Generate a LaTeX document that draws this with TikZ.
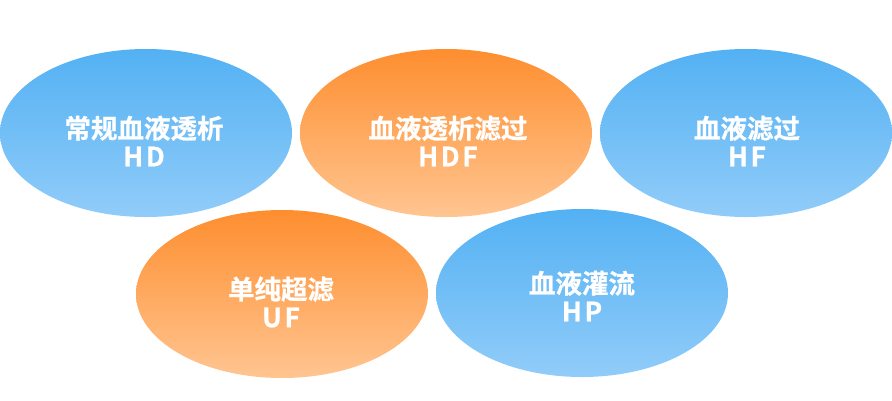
\documentclass[tikz,border=0pt]{standalone}
\usepackage{fontspec}
\setmainfont{Noto Sans CJK SC}[BoldFont={Noto Sans CJK SC Bold},BoldFeatures={FakeBold=0.8}]
\usetikzlibrary{shapes.geometric}
\definecolor{blueTop}{HTML}{53B1F3}
\definecolor{blueBot}{HTML}{91CCF9}
\definecolor{orTop}{HTML}{FE8E2F}
\definecolor{orBot}{HTML}{FFC591}
\tikzset{
  oval/.style={ellipse, draw=none, inner sep=0pt, minimum width=292pt, minimum height=168pt},
  blueoval/.style={oval, top color=blueTop, bottom color=blueBot},
  orangeoval/.style={oval, top color=orTop, bottom color=orBot},
  lbl/.style={text=white, align=center, font=\bfseries\fontsize{26.5}{28}\selectfont},
}
\newcommand{\abbr}[1]{{\addfontfeatures{LetterSpace=10}#1}}
\begin{document}
\begin{tikzpicture}[x=1pt,y=-1pt]
\useasboundingbox (0,0) rectangle (892,400);
\node[blueoval] (hd) at (146,133) {};
\node[orangeoval] (hdf) at (446,133) {};
\node[blueoval] (hf) at (746,133) {};
\node[orangeoval] (uf) at (282,294) {};
\node[blueoval] (hp) at (582,293) {};
\node[lbl] (thd) at (144,141) {常规血液透析\\\abbr{HD}};
\node[lbl] (thdf) at (448,141) {血液透析滤过\\\abbr{HDF}};
\node[lbl] (thf) at (747,141) {血液滤过\\\abbr{HF}};
\node[lbl] (tuf) at (281,302) {单纯超滤\\\abbr{UF}};
\node[lbl] (thp) at (582,296) {血液灌流\\\abbr{HP}};
\end{tikzpicture}
\end{document}
